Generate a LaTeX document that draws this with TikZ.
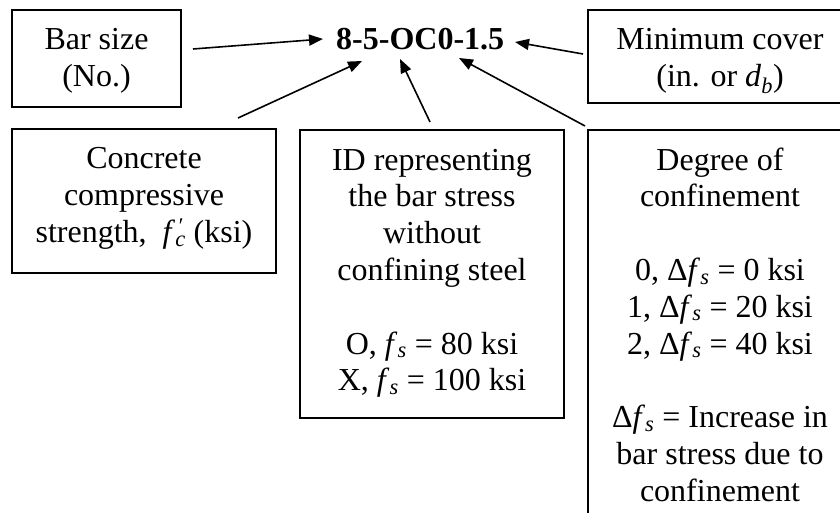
\documentclass[tikz,border=0pt]{standalone}
\usepackage{fontspec}
\setmainfont{Liberation Serif}
\usetikzlibrary{arrows.meta,calc}
\newcommand{\fsv}{\textit{f}\textsubscript{\textit{s}}}
\newcommand{\fcprime}{\textit{f}\makebox[0pt][l]{\textsuperscript{\kern2pt\textit{′}}}\textsubscript{\textit{c}}}
\newcommand{\boxtext}[3]{\parbox[c][#2][t]{#1}{\centering\rule{0pt}{40pt}#3\par}}
\tikzset{
  txt/.style={font=\fontsize{32}{36.8}\selectfont},
  infobox/.style={txt, draw, line width=1.8pt, inner sep=0pt, outer sep=0pt, anchor=north west},
  conn/.style={line width=1.6pt, -{Triangle[length=14pt,width=11pt]}}
}
\begin{document}
\begin{tikzpicture}[x=1pt,y=1pt]
\path[use as bounding box] (0,0) rectangle (840,-513);
\clip (0,0) rectangle (840,-513);
% boxes
\node[infobox] (bar) at (12,-10) {\boxtext{169pt}{97pt}{Bar size\\(No.)}};
\node[infobox] (minc) at (588,-10) {\boxtext{264pt}{93pt}{Minimum cover\\(in. or \textit{d}\textsubscript{\textit{b}})}};
\node[infobox] (conc) at (12,-129) {\boxtext{264pt}{144pt}{Concrete\\compressive\\strength,\ \ \fcprime\ (ksi)}};
\node[infobox] (idb) at (300,-130) {\boxtext{264pt}{288pt}{ID representing\\the bar stress\\without\\confining steel\\\mbox{}\\O, \fsv{} = 80 ksi\\X, \fsv{} = 100 ksi}};
\node[infobox] (deg) at (588,-130) {\boxtext{264pt}{420pt}{Degree of\\confinement\\\mbox{}\\0, Δ\fsv{} = 0 ksi\\1, Δ\fsv{} = 20 ksi\\2, Δ\fsv{} = 40 ksi\\\mbox{}\\Δ\fsv{} = Increase in\\bar stress due to\\confinement}};
% code label
\node[txt, font=\fontsize{32}{36.8}\selectfont\bfseries, anchor=base west, inner sep=0pt] (code) at (336,-50) {8-5-OC0-1.5};
% arrow ends
\coordinate (barS) at ($(bar.east)+(12,9.5)$);
\coordinate (barT) at ($(code.base west)+(-13,11)$);
\coordinate (concS) at ($(conc.north)+(94,11)$);
\coordinate (concT) at ($(code.base west)+(26,-11)$);
\coordinate (idS) at ($(idb.north)+(-2,8)$);
\coordinate (idT) at ($(code.base west)+(64,-9)$);
\coordinate (degS) at ($(deg.north west)+(-3,4)$);
\coordinate (degT) at ($(code.base west)+(123,-8)$);
\coordinate (mincS) at ($(minc.west)+(-5,2.5)$);
\coordinate (mincT) at ($(code.base west)+(179,8)$);
% connectors
\draw[conn] (barS) -- (barT);
\draw[conn] (concS) -- (concT);
\draw[conn] (idS) -- (idT);
\draw[conn] (degS) -- (degT);
\draw[conn] (mincS) -- (mincT);
\end{tikzpicture}
\end{document}
